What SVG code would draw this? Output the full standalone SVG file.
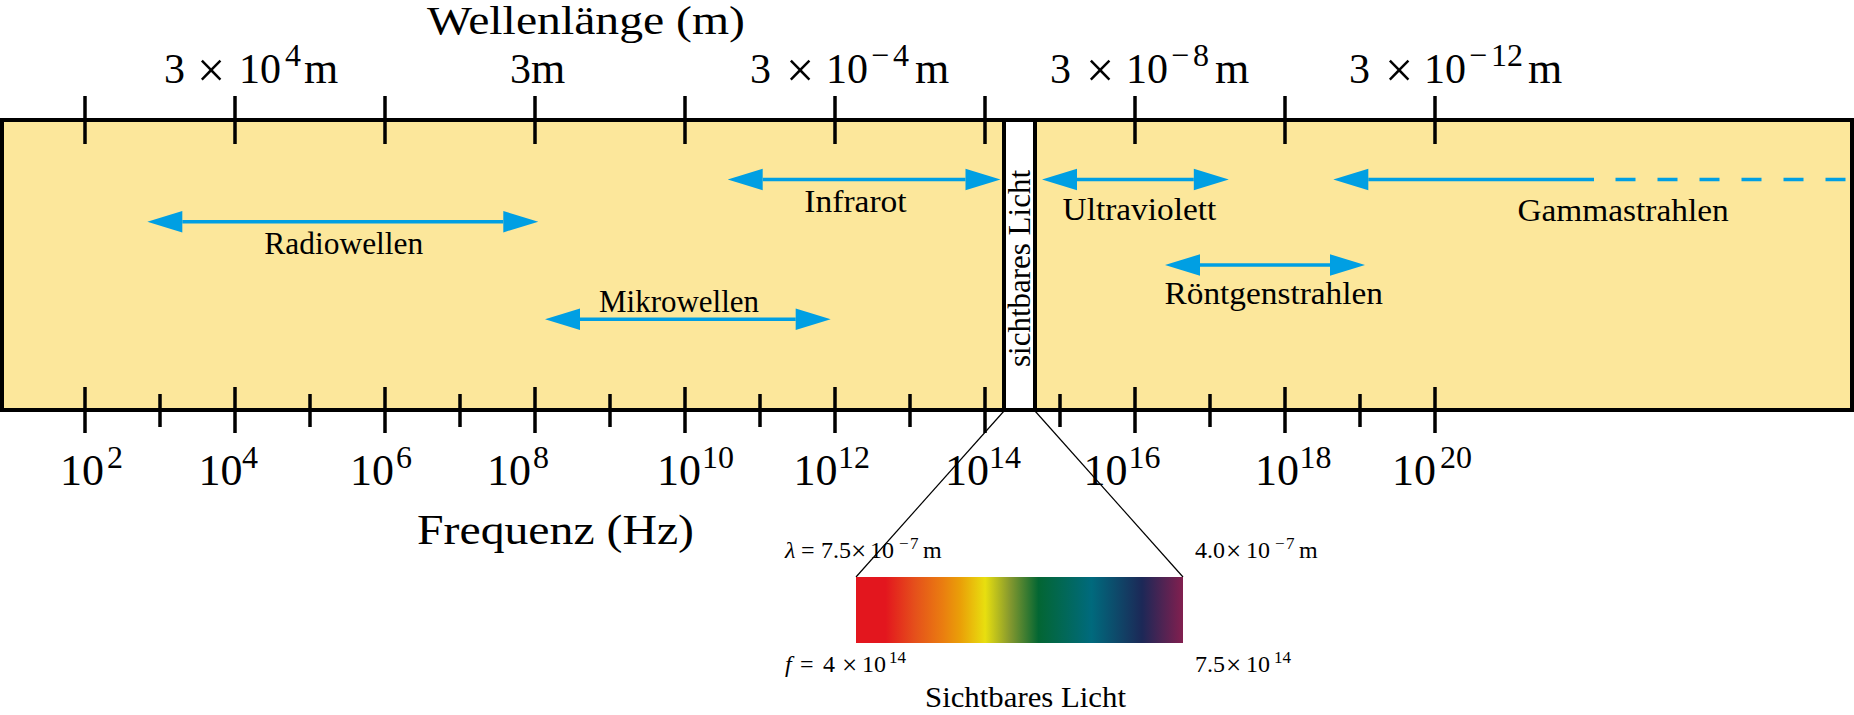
<svg xmlns="http://www.w3.org/2000/svg" width="1854" height="715" viewBox="0 0 1854 715">
<style>
text{font-family:"Liberation Serif","Times New Roman",serif;fill:#000}
.tick{stroke:#000;stroke-width:3.5}
.frame{fill:#FCE79B;stroke:#000;stroke-width:4}
.sep{stroke:#000;stroke-width:4}
.arr{stroke:#009FE3;stroke-width:3.6;fill:none}
.zoom{stroke:#000;stroke-width:1.2;fill:none}
.lt{font-size:42px}
.lm{font-size:44px}
.ls{font-size:32px}
.lx{font-size:50px}
.bt{font-size:44px}
.bs{font-size:32px}
.band{font-size:31px}
.sm{font-size:24px}
.smx{font-size:27px}
.sms{font-size:17px}
</style>
<defs>
<marker id="ah" markerUnits="userSpaceOnUse" markerWidth="36" markerHeight="24" refX="0" refY="12" orient="auto-start-reverse" overflow="visible">
<path d="M0,1.3 L35,12 L0,22.7 z" fill="#009FE3"/>
</marker>
<linearGradient id="spec" x1="0" y1="0" x2="1" y2="0">
<stop offset="0" stop-color="#E3161E"/>
<stop offset="0.09" stop-color="#E3161E"/>
<stop offset="0.18" stop-color="#E5501B"/>
<stop offset="0.265" stop-color="#EA7D10"/>
<stop offset="0.32" stop-color="#EAA008"/>
<stop offset="0.395" stop-color="#E8DF0F"/>
<stop offset="0.47" stop-color="#86992E"/>
<stop offset="0.558" stop-color="#036633"/>
<stop offset="0.72" stop-color="#006A7D"/>
<stop offset="0.875" stop-color="#1C2857"/>
<stop offset="1" stop-color="#821F4F"/>
</linearGradient>
</defs>

<g id="frame">
<rect class="frame" x="2" y="120" width="1850" height="290"/>
<rect x="1004" y="120" width="31" height="290" fill="#fff"/>
<line class="sep" x1="1004" y1="118" x2="1004" y2="412"/>
<line class="sep" x1="1035" y1="118" x2="1035" y2="412"/>
<rect x="2" y="120" width="1850" height="290" fill="none" stroke="#000" stroke-width="4"/>
</g>

<g id="top-ticks">
<line class="tick" x1="85" y1="96" x2="85" y2="144"/>
<line class="tick" x1="235" y1="96" x2="235" y2="144"/>
<line class="tick" x1="385" y1="96" x2="385" y2="144"/>
<line class="tick" x1="535" y1="96" x2="535" y2="144"/>
<line class="tick" x1="685" y1="96" x2="685" y2="144"/>
<line class="tick" x1="835" y1="96" x2="835" y2="144"/>
<line class="tick" x1="985" y1="96" x2="985" y2="144"/>
<line class="tick" x1="1135" y1="96" x2="1135" y2="144"/>
<line class="tick" x1="1285" y1="96" x2="1285" y2="144"/>
<line class="tick" x1="1435" y1="96" x2="1435" y2="144"/>
</g>

<g id="bottom-ticks">
<line class="tick" x1="85" y1="387" x2="85" y2="433"/>
<line class="tick" x1="235" y1="387" x2="235" y2="433"/>
<line class="tick" x1="385" y1="387" x2="385" y2="433"/>
<line class="tick" x1="535" y1="387" x2="535" y2="433"/>
<line class="tick" x1="685" y1="387" x2="685" y2="433"/>
<line class="tick" x1="835" y1="387" x2="835" y2="433"/>
<line class="tick" x1="985" y1="387" x2="985" y2="433"/>
<line class="tick" x1="1135" y1="387" x2="1135" y2="433"/>
<line class="tick" x1="1285" y1="387" x2="1285" y2="433"/>
<line class="tick" x1="1435" y1="387" x2="1435" y2="433"/>
<line class="tick" x1="160" y1="394" x2="160" y2="427"/>
<line class="tick" x1="310" y1="394" x2="310" y2="427"/>
<line class="tick" x1="460" y1="394" x2="460" y2="427"/>
<line class="tick" x1="610" y1="394" x2="610" y2="427"/>
<line class="tick" x1="760" y1="394" x2="760" y2="427"/>
<line class="tick" x1="910" y1="394" x2="910" y2="427"/>
<line class="tick" x1="1060" y1="394" x2="1060" y2="427"/>
<line class="tick" x1="1210" y1="394" x2="1210" y2="427"/>
<line class="tick" x1="1360" y1="394" x2="1360" y2="427"/>
</g>

<g id="wavelength-axis">
<text x="427" y="34" font-size="40" textLength="318" lengthAdjust="spacingAndGlyphs">Wellenlänge (m)</text>
<text class="lt" y="83"><tspan x="164">3</tspan><tspan class="lx" x="197" y="87">×</tspan><tspan x="239" y="83">10</tspan><tspan class="ls" x="285" y="66">4</tspan><tspan class="lm" x="304" y="83">m</tspan></text>
<text class="lt" y="83"><tspan x="510">3</tspan><tspan class="lm" x="531">m</tspan></text>
<text class="lt" y="83"><tspan x="750">3</tspan><tspan class="lx" x="786" y="87">×</tspan><tspan x="826" y="83">10</tspan><tspan class="ls" x="871" y="66">−</tspan><tspan class="ls" x="893" y="66">4</tspan><tspan class="lm" x="915" y="83">m</tspan></text>
<text class="lt" y="83"><tspan x="1050">3</tspan><tspan class="lx" x="1086" y="87">×</tspan><tspan x="1126" y="83">10</tspan><tspan class="ls" x="1171" y="66">−</tspan><tspan class="ls" x="1193" y="66">8</tspan><tspan class="lm" x="1215" y="83">m</tspan></text>
<text class="lt" y="83"><tspan x="1349">3</tspan><tspan class="lx" x="1385" y="87">×</tspan><tspan x="1424" y="83">10</tspan><tspan class="ls" x="1469" y="66">−</tspan><tspan class="ls" x="1491" y="66">12</tspan><tspan class="lm" x="1528" y="83">m</tspan></text>
</g>

<g id="frequency-axis">
<text class="bt" y="485"><tspan x="60">10</tspan><tspan class="bs" x="107" y="468">2</tspan></text>
<text class="bt" y="485"><tspan x="198.5">10</tspan><tspan class="bs" x="242" y="468">4</tspan></text>
<text class="bt" y="485"><tspan x="350">10</tspan><tspan class="bs" x="396" y="468">6</tspan></text>
<text class="bt" y="485"><tspan x="487">10</tspan><tspan class="bs" x="533" y="468">8</tspan></text>
<text class="bt" y="485"><tspan x="657">10</tspan><tspan class="bs" x="702" y="468">10</tspan></text>
<text class="bt" y="485"><tspan x="793.5">10</tspan><tspan class="bs" x="838" y="468">12</tspan></text>
<text class="bt" y="485"><tspan x="945">10</tspan><tspan class="bs" x="989" y="468">14</tspan></text>
<text class="bt" y="485"><tspan x="1083.5">10</tspan><tspan class="bs" x="1128.5" y="468">16</tspan></text>
<text class="bt" y="485"><tspan x="1255">10</tspan><tspan class="bs" x="1299.5" y="468">18</tspan></text>
<text class="bt" y="485"><tspan x="1392">10</tspan><tspan class="bs" x="1440" y="468">20</tspan></text>
<text x="417" y="544" font-size="42" textLength="277" lengthAdjust="spacingAndGlyphs">Frequenz (Hz)</text>
</g>

<g id="connectors">
<line class="arr" x1="182.3" y1="221.7" x2="503.3" y2="221.7" marker-start="url(#ah)" marker-end="url(#ah)"/>
<line class="arr" x1="580" y1="319.3" x2="795.7" y2="319.3" marker-start="url(#ah)" marker-end="url(#ah)"/>
<line class="arr" x1="762.7" y1="179.5" x2="965.5" y2="179.5" marker-start="url(#ah)" marker-end="url(#ah)"/>
<line class="arr" x1="1077" y1="179.5" x2="1193.8" y2="179.5" marker-start="url(#ah)" marker-end="url(#ah)"/>
<line class="arr" x1="1200" y1="265" x2="1330" y2="265" marker-start="url(#ah)" marker-end="url(#ah)"/>
<line class="arr" x1="1368.3" y1="179.5" x2="1594" y2="179.5" marker-start="url(#ah)"/>
<line class="arr" x1="1615.5" y1="179.5" x2="1850" y2="179.5" stroke-dasharray="20 22"/>
<line class="zoom" x1="1004" y1="411" x2="856" y2="577"/>
<line class="zoom" x1="1035" y1="411" x2="1183" y2="577"/>
</g>

<g id="radiowellen"><text class="band" x="264.3" y="254.3" textLength="159" lengthAdjust="spacingAndGlyphs">Radiowellen</text></g>
<g id="mikrowellen"><text class="band" x="599" y="312.3" textLength="160" lengthAdjust="spacingAndGlyphs">Mikrowellen</text></g>
<g id="infrarot"><text class="band" x="804.3" y="212.3" textLength="102.4" lengthAdjust="spacingAndGlyphs">Infrarot</text></g>
<g id="sichtbar"><text class="band" transform="translate(1029.5,268.5) rotate(-90)" text-anchor="middle" textLength="197" lengthAdjust="spacingAndGlyphs">sichtbares Licht</text></g>
<g id="ultraviolett"><text class="band" x="1062.6" y="220" textLength="153.6" lengthAdjust="spacingAndGlyphs">Ultraviolett</text></g>
<g id="roentgen"><text class="band" x="1164.5" y="304" textLength="218.4" lengthAdjust="spacingAndGlyphs">Röntgenstrahlen</text></g>
<g id="gamma"><text class="band" x="1517.4" y="221" textLength="211.4" lengthAdjust="spacingAndGlyphs">Gammastrahlen</text></g>

<g id="spectrum">
<rect x="856" y="577" width="327" height="66" fill="url(#spec)"/>
<text class="sm" y="557.7"><tspan x="785" font-style="italic">λ</tspan><tspan x="801">=</tspan><tspan x="821">7.5</tspan><tspan class="smx" x="851" y="559.5">×</tspan><tspan x="870" y="557.7">10</tspan><tspan class="sms" x="899" y="549">−</tspan><tspan class="sms" x="910" y="549">7</tspan><tspan x="923" y="557.7">m</tspan></text>
<text class="sm" y="557.7"><tspan x="1195">4.0</tspan><tspan class="smx" x="1226" y="559.5">×</tspan><tspan x="1246" y="557.7">10</tspan><tspan class="sms" x="1275" y="549">−</tspan><tspan class="sms" x="1286" y="549">7</tspan><tspan x="1299" y="557.7">m</tspan></text>
<text class="sm" y="671.7"><tspan x="785" font-style="italic">f</tspan><tspan x="800">=</tspan><tspan x="823">4</tspan><tspan class="smx" x="842" y="673.5">×</tspan><tspan x="862" y="671.7">10</tspan><tspan class="sms" x="889" y="663">14</tspan></text>
<text class="sm" y="671.7"><tspan x="1195">7.5</tspan><tspan class="smx" x="1226" y="673.5">×</tspan><tspan x="1246" y="671.7">10</tspan><tspan class="sms" x="1274" y="663">14</tspan></text>
<text x="925" y="706.7" font-size="29" textLength="201" lengthAdjust="spacingAndGlyphs">Sichtbares Licht</text>
</g>
</svg>
